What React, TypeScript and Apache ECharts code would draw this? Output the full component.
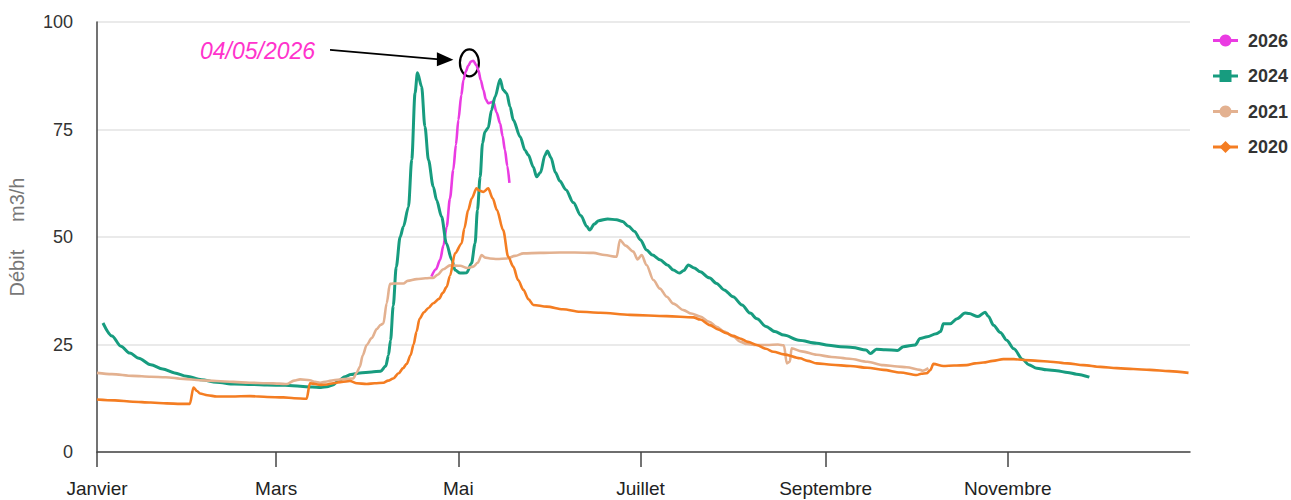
import React, { useEffect, useRef } from "react";
import * as echarts from "echarts";

// X axis: day of year (leap reference year), ticks at the 1st of every other month
const monthTickDays = [0, 60, 121, 182, 244, 305];
const monthLabels = ["Janvier", "Mars", "Mai", "Juillet", "Septembre", "Novembre"];
const yTicks = [0, 25, 50, 75, 100];

const seriesNames = ["2026", "2024", "2021", "2020"];
const seriesColors = ["#ea3be2", "#179c7f", "#e3b190", "#f47d22"];
const seriesSymbols = ["circle", "rect", "circle", "diamond"];

// [day of year, débit m3/h]
const flow2026 = [
  [112, 40.8], [113.5, 42.5], [114.9, 44.7], [116, 48], [117.1, 52.4], [118.2, 59],
  [119.3, 65.6], [120.2, 71.5], [121, 77.2], [122, 83], [122.7, 86.5], [123.5, 88.5],
  [124.3, 89.8], [125.2, 90.8], [126, 91], [127, 90], [127.7, 88.8], [128.5, 86.5],
  [129.4, 84.2], [130.2, 82], [131, 81.1], [132, 81.3], [132.7, 81.5], [133.8, 79],
  [135, 76.4], [135.8, 73.5], [136.6, 70.2], [137.4, 66.5], [138.1, 62.6],
];

const flow2024 = [
  [2, 30], [5, 27], [8, 24.6], [11, 23], [14, 21.8], [18, 20.3], [22, 19.3], [26, 18.4],
  [30, 17.6], [35, 16.8], [40, 16.2], [46, 15.8], [52, 15.7], [57, 15.6], [63, 15.5],
  [68, 15.3], [72, 15.1], [75, 15.0], [77, 15.2], [79, 15.6], [81, 16.6], [83, 17.5],
  [85, 18.0], [88, 18.4], [92, 18.6], [95, 18.8], [96.7, 20], [97.6, 22.5], [98.3, 26],
  [99.2, 34], [100.2, 43], [101.5, 50], [102.6, 52.4], [104.3, 57], [105.4, 68],
  [106.5, 83.5], [107.3, 88.2], [108.7, 85], [109.8, 75.7], [111, 67.9], [112.6, 61.7],
  [113.7, 58.6], [115.4, 54.7], [117, 48.5], [118.8, 44.7], [119.9, 42.3], [121.6, 41.6],
  [123.8, 41.7], [125.4, 43.9], [126.6, 48.5], [127.4, 56.3], [128.3, 64], [129.1, 71.8],
  [129.9, 74.5], [131, 75.4], [132.1, 79.5], [133.3, 82.6], [135, 86.7], [136, 84.2],
  [137.2, 83.4], [138.3, 80.3], [139.4, 77.2], [141.7, 73.3], [143.3, 70.2], [144.4, 69.1],
  [146.1, 66.3], [147.2, 64], [148.5, 65], [150, 69], [150.8, 70], [152, 68.5],
  [153.5, 65], [155, 63], [157, 61], [159.5, 58], [162, 55], [164, 52.5], [165, 51.6],
  [166.5, 53], [168, 53.8], [171, 54.2], [174, 54], [176, 53.6], [178, 52.5],
  [180, 51.3], [182, 49.3], [184, 47], [186, 45.8], [188.5, 44.7], [191, 43.5],
  [193, 42.3], [195, 41.6], [196.5, 42.2], [198, 43.5], [200, 42.8], [202, 41.9],
  [205, 40.5], [207.5, 39.2], [210, 37.7], [213, 36.1], [216, 34.2], [218.7, 32.3],
  [221, 31], [224, 29.2], [227, 28], [230, 27.2], [235, 26], [241, 25.3], [245, 24.8],
  [249, 24.5], [253, 24.3], [257.5, 23.7], [259, 22.9], [261, 23.9], [264, 23.8],
  [268, 23.6], [270, 24.5], [274, 24.9], [275.6, 26.4], [278, 26.8], [281, 27.5],
  [282.5, 28], [283.4, 29.8], [285.7, 29.8], [288, 31], [290.7, 32.3], [292, 32.2],
  [295, 31.5], [297.4, 32.5], [298.5, 31.5], [300.2, 29.5], [302.5, 27.8], [304.6, 26],
  [307, 24], [310, 21.5], [312, 20.3], [314.7, 19.5], [318, 19.1], [321.4, 18.9],
  [325, 18.5], [328, 18.1], [332.3, 17.4],
];

const flow2021 = [
  [0, 18.4], [5, 18.1], [12, 17.7], [18, 17.5], [23, 17.4], [29, 17.0], [34.5, 16.7],
  [40, 16.5], [45.6, 16.3], [51, 16.1], [56.8, 16.0], [61, 15.9], [63.5, 15.8],
  [66, 16.6], [68, 16.9], [71.3, 16.7], [73, 16.3], [74.7, 16.1], [77, 16.4],
  [79.1, 16.7], [82, 16.9], [85.8, 17.1], [87, 18.5], [88, 19.8], [89, 22.5],
  [90.3, 24.9], [92, 26.5], [93.7, 28.6], [95, 29.6], [95.9, 29.9], [97, 34.6],
  [98.1, 39.1], [100, 39.2], [102.6, 39.2], [104, 39.8], [107, 40.2], [110, 40.4],
  [112.6, 40.5], [114, 41.2], [116, 42.5], [118.2, 43.4], [121.6, 43.3], [124, 42.8],
  [126, 43.1], [127.5, 44], [128.8, 45.8], [130, 45.2], [131.6, 45.0], [134, 44.9],
  [137.2, 45.0], [140, 45.6], [142.8, 46.2], [148.4, 46.3], [155, 46.4], [160, 46.4],
  [166.2, 46.3], [170, 45.8], [174, 45.4], [175.1, 49.3], [177, 48], [179.6, 46.6],
  [181, 44.8], [182.4, 45.8], [184, 43.5], [186.3, 40], [188.5, 38], [190.8, 36.1],
  [193, 34.5], [196.4, 33.0], [199, 32.2], [202, 31.5], [205, 30.3], [207.5, 29.1],
  [210, 28], [213.1, 26.8], [215.5, 25.6], [217.6, 25.1], [220, 24.9], [224.3, 24.9],
  [228, 25.0], [230, 24.8], [231, 20.6], [232, 21], [232.6, 24.1], [236, 23.4],
  [241, 22.6], [246, 22.1], [252, 21.7], [258, 21], [263.3, 20.2], [268, 19.9],
  [271.1, 19.7], [275.6, 19.1], [276.5, 18.9], [278.4, 19.5],
];

const flow2020 = [
  [0, 12.2], [6, 12.0], [12, 11.7], [18, 11.5], [23.3, 11.3], [28, 11.2], [31.1, 11.2],
  [32.3, 15.0], [33.5, 14.2], [34.5, 13.6], [37, 13.2], [40.1, 12.9], [45, 12.9],
  [51.2, 13.0], [57, 12.8], [62.4, 12.7], [66, 12.5], [70.2, 12.4], [71.3, 16.0],
  [73, 15.8], [74.7, 15.6], [77, 15.7], [79.1, 16.0], [82, 16.3], [84.7, 16.5],
  [87, 16.0], [90.3, 15.8], [93, 16.0], [95.9, 16.1], [97.5, 16.6], [99.2, 17.1],
  [101, 18.3], [102.5, 19.5], [103.7, 20.5], [105, 22.5], [106, 25], [107, 28],
  [108, 31], [109.5, 32.5], [111, 33.5], [112.6, 34.6], [114.5, 35.6], [115.8, 37],
  [117.1, 38.4], [118.2, 41], [119.9, 46.2], [122.1, 48.5], [123, 52], [124.3, 56.3],
  [125.5, 59], [127.1, 61.3], [128, 60.8], [129.4, 60.5], [131, 61.3], [132.5, 59],
  [133.9, 56.3], [136, 51.6], [137.7, 45.4], [139.4, 43.1], [141, 40], [142.8, 37.7],
  [144.5, 35.5], [146.1, 34.2], [150.6, 33.8], [156, 33.2], [161.8, 32.6],
  [168.5, 32.4], [178.5, 31.9], [190.8, 31.6], [199.7, 31.3], [202, 30.8],
  [205.2, 29.5], [208, 28.5], [210.8, 27.6], [213, 27], [215.3, 26.4], [218, 25.6],
  [220.9, 24.9], [224, 24], [226.5, 23.3], [230, 22.7], [235.4, 21.8], [238, 21.2],
  [241, 20.6], [246, 20.3], [252.2, 20.0], [258, 19.6], [263.3, 19.1], [269, 18.5],
  [274.5, 17.9], [276, 18.2], [277.8, 18.3], [279, 19], [280.1, 20.5], [283.4, 20.0],
  [287, 20.1], [291.2, 20.2], [294, 20.6], [296.8, 20.8], [300, 21.2], [303.5, 21.6],
  [307, 21.6], [310.2, 21.4], [315, 21.2], [319.2, 21.0], [325, 20.6], [330.3, 20.2],
  [336, 19.8], [341.5, 19.5], [347, 19.3], [352.6, 19.1], [359, 18.8], [365.5, 18.4],
];

const seriesData = [flow2026, flow2024, flow2021, flow2020];

const annotationText = "04/05/2026";
const annotationPeak = [124.7, 90.5];

const FONT = "'Liberation Sans', Arial, Helvetica, sans-serif";

export default function App() {
  const ref = useRef<HTMLDivElement>(null);

  useEffect(() => {
    if (!ref.current) return;
    const chart = echarts.init(ref.current, null, { renderer: "svg" });

    const option: any = {
      animation: false,
      backgroundColor: "#ffffff",
      textStyle: { fontFamily: FONT },
      grid: { left: 97, right: 101, top: 22, bottom: 48, containLabel: false, outerBoundsMode: "none" },
      legend: {
        orient: "vertical",
        left: 1211.5,
        top: 31.5,
        padding: 0,
        itemWidth: 25,
        itemHeight: 15,
        itemGap: 17.5,
        data: seriesNames,
        lineStyle: { width: 3 },
        textStyle: {
          fontFamily: FONT,
          fontSize: 18,
          fontWeight: "bold",
          color: "#333333",
          padding: [0, 0, 0, 5],
        },
      },
      xAxis: {
        type: "value",
        min: 0,
        max: 366,
        splitLine: { show: false },
        axisLine: { show: true, lineStyle: { color: "#444444", width: 1.5 } },
        axisTick: {
          show: true,
          length: 15,
          customValues: monthTickDays,
          lineStyle: { color: "#444444", width: 1.5 },
        },
        axisLabel: {
          show: true,
          customValues: monthTickDays,
          margin: 27,
          fontSize: 19,
          color: "#222222",
          fontFamily: FONT,
          formatter: (v: number) => {
            const i = monthTickDays.indexOf(Math.round(v));
            return i >= 0 ? monthLabels[i] : "";
          },
        },
      },
      yAxis: {
        type: "value",
        min: yTicks[0],
        max: yTicks[yTicks.length - 1],
        interval: yTicks[1] - yTicks[0],
        name: "Débit     m3/h",
        nameLocation: "middle",
        nameGap: 70,
        nameTextStyle: { fontSize: 20, color: "#777777", fontFamily: FONT },
        axisLine: { show: true, lineStyle: { color: "#444444", width: 1.5 } },
        axisTick: { show: false },
        axisLabel: { fontSize: 18, color: "#333333", margin: 24, fontFamily: FONT },
        splitLine: { show: true, lineStyle: { color: "#e3e3e3", width: 1.5 } },
      },
      series: seriesNames.map((name, i) => ({
        name,
        type: "line",
        data: seriesData[i],
        showSymbol: false,
        symbol: seriesSymbols[i],
        symbolSize: 10,
        smooth: 0.3,
        smoothMonotone: "x",
        color: seriesColors[i],
        lineStyle: { color: seriesColors[i], width: i === 1 ? 3 : 2.6 },
        itemStyle: { color: seriesColors[i] },
        emphasis: { disabled: true },
      })),
    };

    chart.setOption(option);

    const p = chart.convertToPixel({ gridIndex: 0 }, annotationPeak) as number[];
    const cx = p[0];
    const cy = p[1];
    const tipX = cx - 16;
    const tipY = cy - 3;
    chart.setOption({
      graphic: [
        {
          type: "text",
          x: 200,
          y: cy - 12,
          style: {
            text: annotationText,
            fontSize: 23,
            fontStyle: "italic",
            fontFamily: FONT,
            fill: "#ff33cc",
            align: "left",
            verticalAlign: "middle",
          },
        },
        {
          type: "line",
          shape: { x1: 330, y1: cy - 13, x2: tipX - 14, y2: tipY - 0.5 },
          style: { stroke: "#000000", lineWidth: 1.6 },
        },
        {
          type: "polygon",
          shape: {
            points: [
              [tipX, tipY],
              [tipX - 16.5, tipY - 7.5],
              [tipX - 16.5, tipY + 6.5],
            ],
          },
          style: { fill: "#000000" },
        },
        {
          type: "ellipse",
          shape: { cx, cy, rx: 9.5, ry: 13.5 },
          style: { fill: "none", stroke: "#000000", lineWidth: 2.2 },
        },
      ],
    });

    return () => chart.dispose();
  }, []);

  return (
    <div
      ref={ref}
      style={{ position: "fixed", left: 0, top: 0, width: 1291, height: 500 }}
    />
  );
}
